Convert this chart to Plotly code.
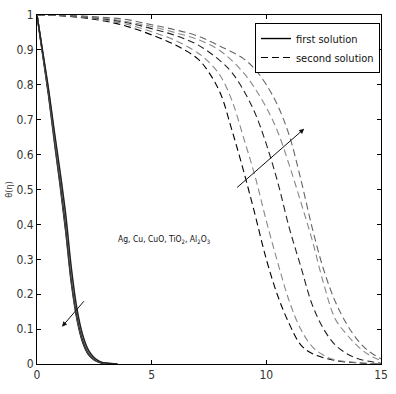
import plotly.graph_objects as go

# ---- data: first solution (solid), shared eta grid ----
eta_first = [0, 0.25, 0.5, 0.75, 1.0, 1.25, 1.5, 1.75, 2.0, 2.25, 2.5, 2.75, 3.0, 3.5]
theta_first_ag = [1, 0.885, 0.77, 0.64, 0.515, 0.38, 0.23, 0.125, 0.06, 0.026, 0.011, 0.004, 0.001, 0]
theta_first_cu = [1, 0.888, 0.775, 0.648, 0.525, 0.392, 0.24, 0.132, 0.065, 0.029, 0.012, 0.0045, 0.0015, 0]
theta_first_cuo = [1, 0.89, 0.78, 0.655, 0.535, 0.405, 0.25, 0.14, 0.07, 0.032, 0.014, 0.005, 0.002, 0]
theta_first_tio2 = [1, 0.892, 0.785, 0.662, 0.545, 0.418, 0.262, 0.148, 0.076, 0.035, 0.016, 0.006, 0.002, 0]
theta_first_al2o3 = [1, 0.895, 0.79, 0.67, 0.555, 0.43, 0.275, 0.156, 0.082, 0.039, 0.018, 0.007, 0.003, 0]

# ---- data: second solution (dashed) ----
eta_a = [0, 1, 2, 3, 4, 5, 6, 7, 7.5, 8, 8.5, 9, 9.5, 10, 10.5, 11, 11.5, 12, 13, 14, 15]
theta_a = [1, 0.998, 0.992, 0.982, 0.966, 0.943, 0.915, 0.875, 0.835, 0.775, 0.67, 0.555, 0.43, 0.30, 0.195, 0.115, 0.055, 0.03, 0.01, 0.003, 0]
eta_b = [0, 1, 2, 3, 4, 5, 6, 7, 7.5, 8, 8.5, 9, 9.5, 10, 10.5, 11, 11.5, 12, 12.5, 13, 14, 15]
theta_b = [1, 0.998, 0.994, 0.985, 0.972, 0.952, 0.928, 0.892, 0.865, 0.825, 0.755, 0.65, 0.54, 0.41, 0.29, 0.18, 0.10, 0.05, 0.025, 0.012, 0.004, 0]
eta_c = [0, 1, 2, 3, 4, 5, 6, 7, 8, 8.5, 9, 9.5, 10, 10.5, 11, 11.5, 12, 12.5, 13, 13.5, 14, 15]
theta_c = [1, 0.999, 0.995, 0.988, 0.977, 0.961, 0.942, 0.915, 0.868, 0.835, 0.785, 0.72, 0.63, 0.52, 0.39, 0.28, 0.17, 0.10, 0.055, 0.03, 0.015, 0.002]
eta_d = [0, 1, 2, 3, 4, 5, 6, 7, 8, 9, 9.5, 10, 10.5, 11, 11.5, 12, 12.5, 13, 13.5, 14, 14.5, 15]
theta_d = [1, 0.999, 0.996, 0.99, 0.98, 0.967, 0.95, 0.93, 0.897, 0.835, 0.79, 0.735, 0.665, 0.57, 0.465, 0.355, 0.23, 0.13, 0.085, 0.05, 0.025, 0.01]
eta_e = [0, 1, 2, 3, 4, 5, 6, 7, 8, 9, 9.5, 10, 10.5, 11, 11.5, 12, 12.5, 13, 13.5, 14, 14.5, 15]
theta_e = [1, 0.999, 0.997, 0.993, 0.986, 0.972, 0.958, 0.94, 0.91, 0.875, 0.845, 0.80, 0.74, 0.655, 0.53, 0.39, 0.27, 0.18, 0.115, 0.067, 0.035, 0.015]

x_ticks = [0, 5, 10, 15]
y_ticks = [0, 0.1, 0.2, 0.3, 0.4, 0.5, 0.6, 0.7, 0.8, 0.9, 1]

annotation_text = "Ag, Cu, CuO, TiO<sub>2</sub>, Al<sub>2</sub>O<sub>3</sub>"

FONT = "Liberation Sans Narrow, DejaVu Sans Condensed, Liberation Sans, Arial"

fig = go.Figure()

first_sets = [
    (theta_first_ag, "#000000"),
    (theta_first_cu, "#777777"),
    (theta_first_cuo, "#000000"),
    (theta_first_tio2, "#888888"),
    (theta_first_al2o3, "#222222"),
]
for i, (th, col) in enumerate(first_sets):
    fig.add_trace(go.Scatter(
        x=eta_first, y=th, mode="lines", line=dict(color=col, width=1.4, shape="spline"),
        name="first solution", showlegend=(i == 0), hoverinfo="skip"))

second_sets = [
    (eta_a, theta_a, "#111111"),
    (eta_b, theta_b, "#888888"),
    (eta_c, theta_c, "#222222"),
    (eta_d, theta_d, "#888888"),
    (eta_e, theta_e, "#666666"),
]
for i, (ex, th, col) in enumerate(second_sets):
    fig.add_trace(go.Scatter(
        x=ex, y=th, mode="lines",
        line=dict(color=col if i else "#000000", width=1.1, dash="7px,4px", shape="spline"),
        name="second solution", showlegend=(i == 0), hoverinfo="skip"))

# arrows
fig.add_annotation(x=11.65, y=0.674, ax=8.66, ay=0.502, xref="x", yref="y", axref="x", ayref="y",
                   showarrow=True, arrowhead=2, arrowsize=1, arrowwidth=1, arrowcolor="#111111", text="")
fig.add_annotation(x=1.09, y=0.107, ax=2.10, ay=0.184, xref="x", yref="y", axref="x", ayref="y",
                   showarrow=True, arrowhead=2, arrowsize=1, arrowwidth=1, arrowcolor="#111111", text="")

fig.add_annotation(x=3.45, y=0.357, xref="x", yref="y", xanchor="left", yanchor="middle",
                   text=annotation_text, showarrow=False,
                   font=dict(family=FONT, size=8.5, color="#111111"))

axis_common = dict(showgrid=False, zeroline=False, showline=True, linecolor="#000000", linewidth=1,
                   mirror="ticks", ticks="inside", ticklen=4, tickcolor="#000000",
                   tickfont=dict(family=FONT, size=12, color="#333333"))

fig.update_layout(
    width=396, height=394,
    margin=dict(l=35, r=8, t=10, b=30),
    paper_bgcolor="white", plot_bgcolor="white",
    xaxis=dict(range=[0, 15], tickvals=x_ticks, ticktext=[str(v) for v in x_ticks], **axis_common),
    yaxis=dict(range=[0, 1], tickvals=y_ticks, ticktext=[("%g" % v) for v in y_ticks],
               title=dict(text="θ(η)", font=dict(family=FONT, size=9, color="#333333"), standoff=2),
               **axis_common),
    legend=dict(x=0.997, y=0.977, xanchor="right", yanchor="top", bgcolor="white",
                bordercolor="#000000", borderwidth=1,
                font=dict(family=FONT, size=11, color="#111111"),
                tracegroupgap=0, itemwidth=30),
    showlegend=True,
)

fig.write_html("out.html")
